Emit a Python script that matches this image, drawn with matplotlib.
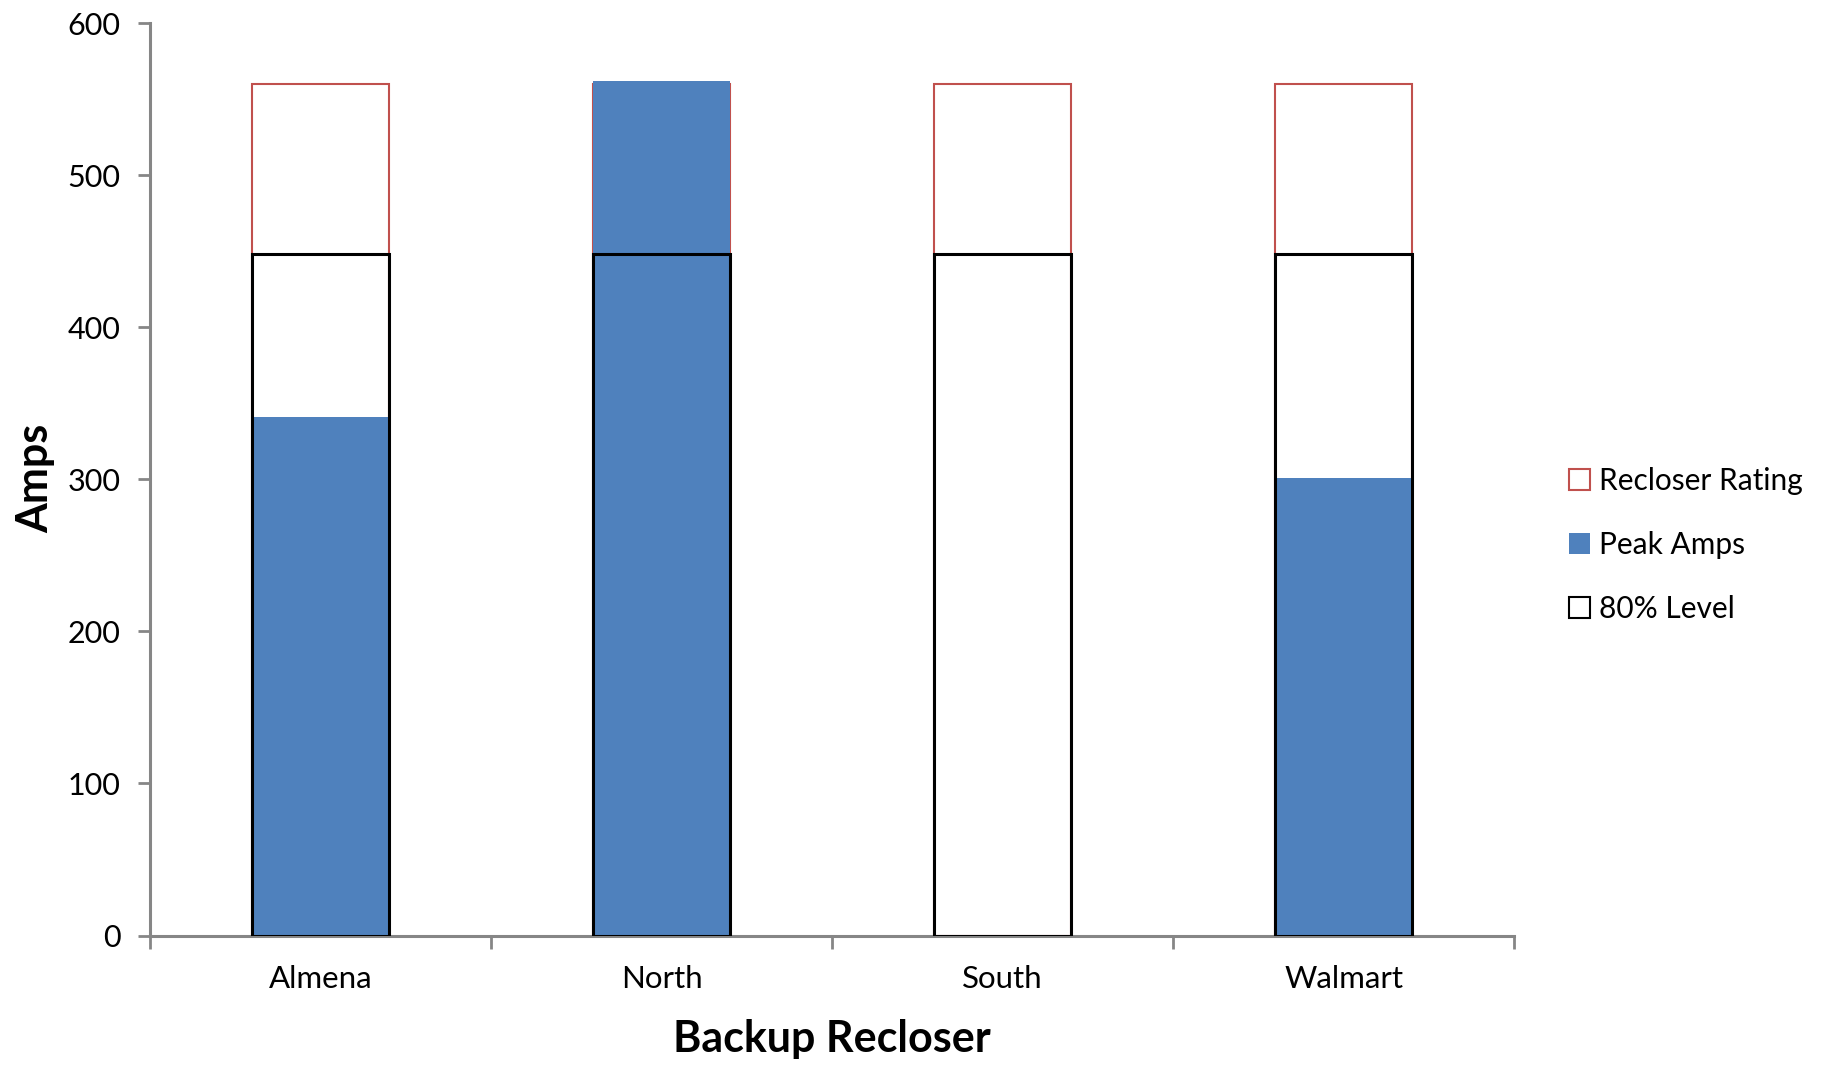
import matplotlib
matplotlib.use("Agg")
import matplotlib.pyplot as plt
import numpy as np

# ── Data ──────────────────────────────────────────────────────────────────────

reclosers = ["Almena", "North", "South", "Walmart"]
recloser_rating = [560, 560, 560, 560]
peak_amps = [341, 562, 0, 301]
level_80 = [448, 448, 448, 448]

# ── Style ─────────────────────────────────────────────────────────────────────

BLUE = "#4F81BD"
RED = "#C0504D"
AXIS_GREY = "#868686"

plt.rcParams["font.family"] = ["Lato", "DejaVu Sans"]

fig = plt.figure(figsize=(18.29, 10.71), dpi=100)
ax = fig.add_axes([0.0820, 0.1265, 0.7458, 0.8517])

x = np.arange(len(reclosers))
width = 0.4

ax.bar(x, recloser_rating, width, facecolor="white", edgecolor=RED,
       linewidth=1.5, label="Recloser Rating", zorder=2)
ax.bar(x, peak_amps, width, color=BLUE, linewidth=0,
       label="Peak Amps", zorder=3)
ax.bar(x, level_80, width, facecolor="none", edgecolor="black",
       linewidth=2.2, label="80% Level", zorder=4)

ax.set_xlim(-0.5, len(reclosers) - 0.5)
ax.set_ylim(0, 600)
ax.set_yticks(np.arange(0, 601, 100))

# category labels centred, tick marks on the boundaries
ax.set_xticks(x)
ax.set_xticklabels(reclosers, fontsize=22.5)
ax.set_xticks(np.arange(-0.5, len(reclosers)), minor=True)
ax.tick_params(axis="x", which="major", length=0, pad=21)
ax.tick_params(axis="x", which="minor", length=9, width=2, color=AXIS_GREY)
ax.tick_params(axis="y", length=9, width=2, color=AXIS_GREY,
               labelsize=22, pad=12)

for side in ("top", "right"):
    ax.spines[side].set_visible(False)
for side in ("left", "bottom"):
    ax.spines[side].set_color(AXIS_GREY)
    ax.spines[side].set_linewidth(2.2)

fig.text(0.019, 0.553, "Amps", rotation=90, fontsize=31,
         fontweight="bold", ha="center", va="center")
fig.text(0.455, 0.030, "Backup Recloser", fontsize=31,
         fontweight="bold", ha="center", va="center")

leg = ax.legend(loc="center left", bbox_to_anchor=(0.8515, 0.491),
                bbox_transform=fig.transFigure, frameon=False,
                fontsize=21.5, handlelength=0.7, handleheight=0.7,
                handletextpad=0.3, labelspacing=1.2, borderaxespad=0)
for h in leg.legend_handles:
    h.set_linewidth(1.5)

fig.savefig("out.png", dpi=100)
